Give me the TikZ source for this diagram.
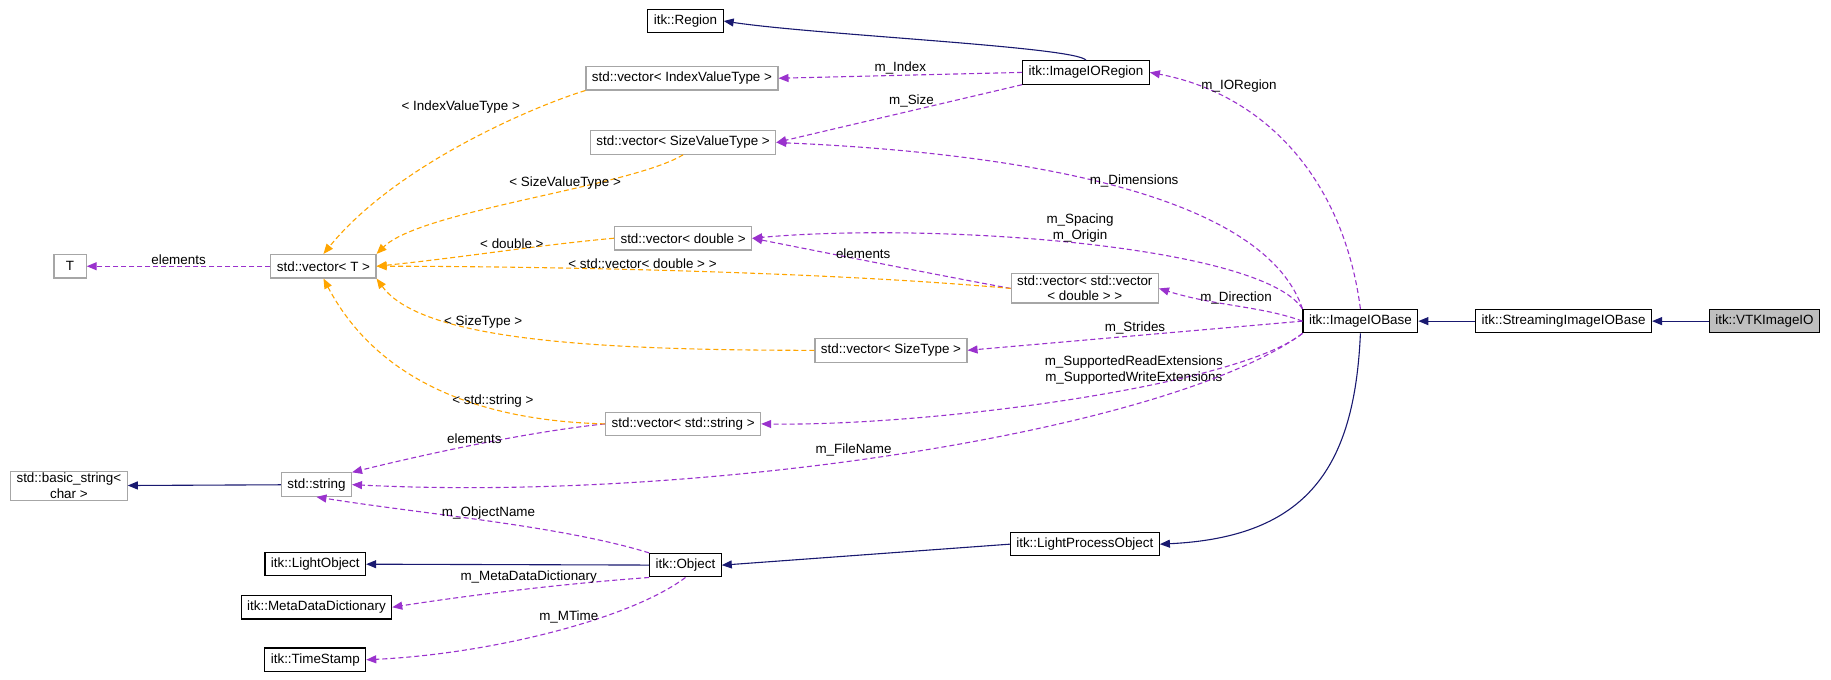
\documentclass[tikz,border=0pt]{standalone}
\usepackage{fontspec}
\setmainfont{Liberation Sans}
\usetikzlibrary{arrows.meta}
\begin{document}
\begin{tikzpicture}[x=1.1677pt,y=-1.1677pt,line width=1.1pt,
  every node/.style={font=\fontsize{13.4}{15.3}\selectfont},
  cls/.style={draw=black,fill=white,minimum height=23.5pt,inner xsep=6pt,inner ysep=2pt},
  gcls/.style={draw=black!35,fill=white,minimum height=23.5pt,inner xsep=6pt,inner ysep=2pt,align=center},
  inh/.style={draw=midnightblue,-{Triangle[length=10pt,width=8pt]}},
  use/.style={draw=usep,dash pattern=on 5pt off 3pt,-{Triangle[length=10pt,width=8pt]}},
  tpl/.style={draw=doxorange,dash pattern=on 5pt off 3pt,-{Triangle[length=10pt,width=8pt]}},
  lbl/.style={font=\fontsize{13.4}{15.3}\selectfont,align=center,inner sep=1pt}]
\definecolor{midnightblue}{RGB}{25,25,112}
\definecolor{usep}{RGB}{154,50,205}
\definecolor{doxorange}{RGB}{255,165,0}
\useasboundingbox (0,0) rectangle (1568,581.5);
% nodes
\node[cls] (region) at (587,18) {itk::Region};
\node[cls] (ioregion) at (930,62) {itk::ImageIORegion};
\node[gcls] (vidx) at (584,67) {std::vector< IndexValueType >};
\node[gcls] (vsize) at (585,122) {std::vector< SizeValueType >};
\node[gcls] (T) at (60,228) {\hspace*{6pt}T\hspace*{6pt}};
\node[gcls] (vT) at (277,228) {std::vector< T >};
\node[gcls] (vdbl) at (585,204) {std::vector< double >};
\node[gcls] (vvec) at (929,247) {std::vector< std::vector\\< double > >};
\node[cls] (iobase) at (1165,275) {itk::ImageIOBase};
\node[cls] (stream) at (1339,275) {itk::StreamingImageIOBase};
\node[cls,fill=black!25] (vtk) at (1511,275) {itk::VTKImageIO};
\node[gcls] (vst) at (763,300) {std::vector< SizeType >};
\node[gcls] (vstr) at (585,363) {std::vector< std::string >};
\node[gcls] (bstr) at (59,416) {std::basic\_string<\\char >};
\node[gcls] (str) at (271,415) {std::string};
\node[cls] (lpo) at (929,466) {itk::LightProcessObject};
\node[cls] (lo) at (270,483) {itk::LightObject};
\node[cls] (obj) at (587,484) {itk::Object};
\node[cls] (mdd) at (271,520) {itk::MetaDataDictionary};
\node[cls] (ts) at (270,565) {itk::TimeStamp};
% inheritance
\draw[inh] (ioregion.north) .. controls (920,40) and (700,30) .. (region.east);
\draw[inh] (stream) -- (iobase);
\draw[inh] (vtk) -- (stream);
\draw[inh] (obj) -- (lo);
\draw[inh] (lpo.west) -- (obj.east);
\draw[inh] (iobase.south) .. controls (1160,400) and (1120,460) .. (lpo.east);
\draw[inh] (str) -- (bstr);
% usage
\draw[use] (ioregion.west) -- node[lbl,above] {m\_Index} (vidx.east);
\draw[use] (ioregion.south west) -- node[lbl,above=2pt,pos=0.45] {m\_Size} (vsize.east);
\draw[use] (iobase.north) .. controls (1150,150) and (1080,80) .. node[lbl,pos=0.85,right=2pt] {m\_IORegion} (ioregion.east);
\draw[use] (iobase.north west) .. controls (1080,160) and (850,130) .. node[lbl,pos=0.45,above=3pt] {m\_Dimensions} (vsize.east);
\draw[use] (iobase.north west) .. controls (1080,210) and (800,190) .. node[lbl,pos=0.5,above] {m\_Spacing\\m\_Origin} (vdbl.east);
\draw[use] (iobase.west) .. controls (1080,262) and (1040,262) .. node[lbl,above,pos=0.5] {m\_Direction} (vvec.east);
\draw[use] (vvec.west) .. controls (800,235) and (700,215) .. node[lbl,above,pos=0.55] {elements} (vdbl.east);
\draw[use] (iobase.west) -- node[lbl,above,pos=0.5] {m\_Strides} (vst.east);
\draw[use] (iobase.south west) .. controls (1060,330) and (800,365) .. node[lbl,pos=0.4,above=3pt] {m\_SupportedReadExtensions\\m\_SupportedWriteExtensions} (vstr.east);
\draw[use] (iobase.south west) .. controls (1000,370) and (600,430) .. node[lbl,pos=0.55,above=3pt] {m\_FileName} (str.east);
\draw[use] (vstr.west) .. controls (450,370) and (360,390) .. node[lbl,above,pos=0.5] {elements} (str.north east);
\draw[use] (obj.north west) .. controls (480,450) and (360,440) .. node[lbl,above,pos=0.5] {m\_ObjectName} (str.south);
\draw[use] (obj.south west) .. controls (480,500) and (400,510) .. node[lbl,above=4pt,pos=0.45] {m\_MetaDataDictionary} (mdd.east);
\draw[use] (obj.south) .. controls (540,530) and (420,560) .. node[lbl,above=3pt,pos=0.45] {m\_MTime} (ts.east);
\draw[use] (vT.west) -- node[lbl,above] {elements} (T.east);
% template
\draw[tpl] (vidx.south west) .. controls (460,90) and (340,140) .. node[lbl,pos=0.3,above left] {< IndexValueType >} (vT.north);
\draw[tpl] (vsize.south) .. controls (540,160) and (360,180) .. node[lbl,pos=0.4,above] {< SizeValueType >} (vT.north east);
\draw[tpl] (vdbl.west) .. controls (460,210) and (400,220) .. node[lbl,above,pos=0.45] {< double >} (vT.east);
\draw[tpl] (vvec.west) .. controls (700,232) and (450,228) .. node[lbl,above,pos=0.55] {< std::vector< double > >} (vT.east);
\draw[tpl] (vst.west) .. controls (500,300) and (360,290) .. node[lbl,above,pos=0.6] {< SizeType >} (vT.south east);
\draw[tpl] (vstr.west) .. controls (400,360) and (320,320) .. node[lbl,above,pos=0.3] {< std::string >} (vT.south);
\end{tikzpicture}
\end{document}
